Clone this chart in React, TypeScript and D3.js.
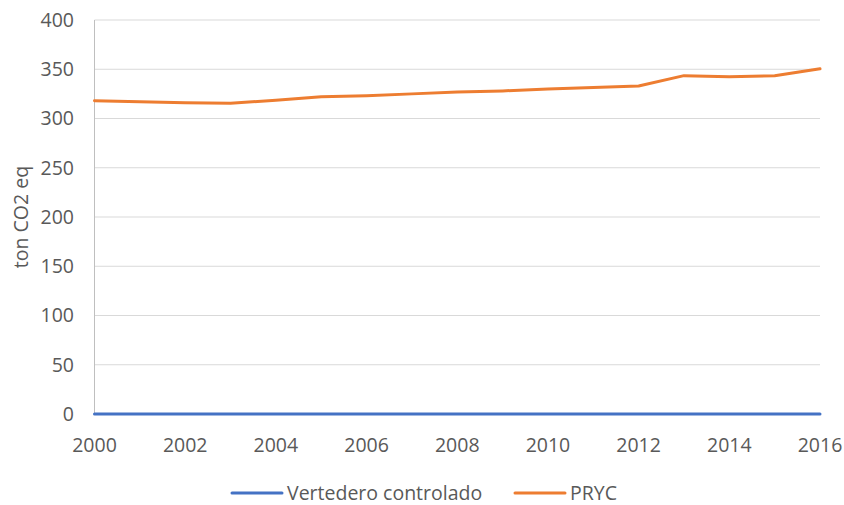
import React from "react";
import * as d3 from "d3";

const years = [2000, 2001, 2002, 2003, 2004, 2005, 2006, 2007, 2008, 2009, 2010, 2011, 2012, 2013, 2014, 2015, 2016];
const vertedero = [0, 0, 0, 0, 0, 0, 0, 0, 0, 0, 0, 0, 0, 0, 0, 0, 0];
const pryc = [318, 317, 316, 315.5, 318.5, 322, 323, 325, 327, 328, 330, 331.5, 333, 343.5, 342.5, 343.5, 350.5];
const yTicks = [0, 50, 100, 150, 200, 250, 300, 350, 400];
const xTicks = [2000, 2002, 2004, 2006, 2008, 2010, 2012, 2014, 2016];
const seriesNames = ["Vertedero controlado", "PRYC"];
const colors = ["#4472C4", "#ED7D31"];

export default function App() {
  const W = 844, H = 505;
  const x = d3.scaleLinear().domain([2000, 2016]).range([94.5, 820]);
  const y = d3.scaleLinear().domain([0, 400]).range([414, 20]);
  const line = d3.line<number>().x((_, i) => x(years[i])).y((d) => y(d));
  const font = "'Open Sans', sans-serif";
  const txt = "#595959";
  const fs = 19.5;
  const series = [vertedero, pryc];
  const legendX = [232, 515];
  return (
    <svg width={W} height={H} style={{ position: "absolute", left: 0, top: 0, background: "#fff" }} fontFamily={font}>
      <rect width={W} height={H} fill="#fff" />
      {yTicks.map((t) => (
        <g key={t}>
          <line x1={x(2000)} x2={x(2016)} y1={y(t)} y2={y(t)} stroke="#d9d9d9" strokeWidth={1} />
          <text x={74} y={y(t)} dy="0.35em" textAnchor="end" fontSize={fs} fill={txt}>{t}</text>
        </g>
      ))}
      <line x1={x(2000)} x2={x(2000)} y1={y(400)} y2={y(0)} stroke="#bfbfbf" strokeWidth={1} />
      {xTicks.map((t) => (
        <text key={t} x={x(t)} y={452} textAnchor="middle" fontSize={fs} fill={txt}>{t}</text>
      ))}
      <text transform={`translate(21,${(y(0) + y(400)) / 2}) rotate(-90)`} dy="0.35em" textAnchor="middle" fontSize={fs} fill={txt}>ton CO2 eq</text>
      {series.map((s, i) => (
        <path key={i} d={line(s) || ""} fill="none" stroke={colors[i]} strokeWidth={3} strokeLinejoin="round" strokeLinecap="round" />
      ))}
      {seriesNames.map((n, i) => (
        <g key={n}>
          <line x1={legendX[i]} x2={legendX[i] + 50} y1={493} y2={493} stroke={colors[i]} strokeWidth={3} strokeLinecap="round" />
          <text x={legendX[i] + 55} y={493} dy="0.35em" fontSize={fs} fill={txt}>{n}</text>
        </g>
      ))}
    </svg>
  );
}
